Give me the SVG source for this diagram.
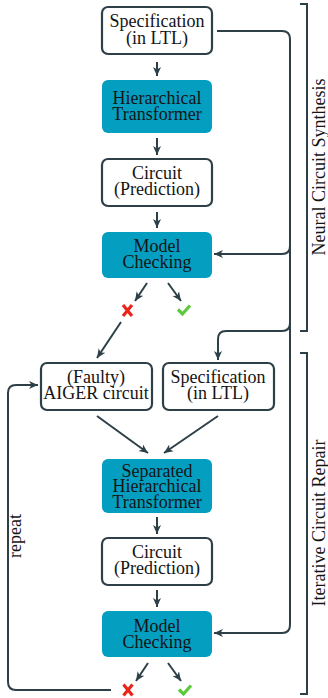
<svg xmlns="http://www.w3.org/2000/svg" width="328" height="698" viewBox="0 0 328 698">
<style>
.box{fill:#fff;stroke:#2d4047;stroke-width:2.2}
.blue{fill:#049ec1;stroke:none}
.t{font-family:"Liberation Serif","Times New Roman",serif;font-size:18px;fill:#141414;text-anchor:middle}
.c{fill:none;stroke:#2d4047;stroke-width:2}
.ca{fill:none;stroke:#2d4047;stroke-width:2;marker-end:url(#ah)}
.br{fill:none;stroke:#2d4047;stroke-width:2}
.x{fill:none;stroke:#e8261c;stroke-width:3.2}
.ok{fill:none;stroke:#5cc93c;stroke-width:3.2}
</style>
<defs>
<marker id="ah" markerUnits="userSpaceOnUse" markerWidth="10" markerHeight="9" refX="9" refY="4.5" orient="auto">
<path d="M0,0.5 L9,4.5 L0,8.5 L2.5,4.5 Z" fill="#2d4047"/>
</marker>
</defs>
<g id="connectors">
<path class="ca" d="M157,62 V76"/>
<path class="ca" d="M157,138 V155"/>
<path class="ca" d="M157,212 V228"/>
<path class="ca" d="M147,283 L135,301"/>
<path class="ca" d="M168,283 L181,301"/>
<path class="ca" d="M121,322 L97,358"/>
<path class="ca" d="M97,416 L148,453"/>
<path class="ca" d="M218,416 L164,453"/>
<path class="ca" d="M157,517 V534"/>
<path class="ca" d="M157,590 V607"/>
<path class="ca" d="M148,663 L136,681"/>
<path class="ca" d="M168,663 L181,681"/>
<path class="ca" d="M217,31 H282 Q290,31 290,39 V625 Q290,633 282,633 H214"/>
<path class="ca" d="M290,246 Q290,254 282,254 H214"/>
<path class="ca" d="M290,323 Q290,331 282,331 H226 Q218,331 218,339 V360"/>
<path class="ca" d="M111,690 H16 Q8,690 8,682 V393 Q8,385 16,385 H38"/>
</g>
<g id="spec1">
<rect class="box" x="102" y="7" width="110" height="47" rx="6"/>
<text class="t" x="157" y="27">Specification</text>
<text class="t" x="157" y="44">(in LTL)</text>
</g>
<g id="ht1">
<rect class="blue" x="102" y="80" width="110" height="53" rx="6"/>
<text class="t" x="157" y="104">Hierarchical</text>
<text class="t" x="157" y="120">Transformer</text>
</g>
<g id="circuit1">
<rect class="box" x="102" y="159" width="110" height="47" rx="6"/>
<text class="t" x="157" y="179">Circuit</text>
<text class="t" x="157" y="195">(Prediction)</text>
</g>
<g id="mc1">
<rect class="blue" x="102" y="232" width="110" height="46" rx="6"/>
<text class="t" x="157" y="252">Model</text>
<text class="t" x="157" y="268">Checking</text>
</g>
<g id="res1">
<path class="x" d="M123,305 L132,316 M132,305 L123,316"/>
<path class="ok" d="M178,309.5 L182.5,314 L190,305.5"/>
</g>
<g id="faulty">
<rect class="box" x="41" y="363" width="111" height="47" rx="6"/>
<text class="t" x="96" y="383">(Faulty)</text>
<text class="t" x="96" y="399">AIGER circuit</text>
</g>
<g id="spec2">
<rect class="box" x="163" y="363" width="111" height="47" rx="6"/>
<text class="t" x="218" y="383">Specification</text>
<text class="t" x="218" y="399">(in LTL)</text>
</g>
<g id="sht">
<rect class="blue" x="102" y="459" width="110" height="54" rx="6"/>
<text class="t" x="157" y="477">Separated</text>
<text class="t" x="157" y="492">Hierarchical</text>
<text class="t" x="157" y="508">Transformer</text>
</g>
<g id="circuit2">
<rect class="box" x="102" y="538" width="110" height="47" rx="6"/>
<text class="t" x="157" y="558">Circuit</text>
<text class="t" x="157" y="574">(Prediction)</text>
</g>
<g id="mc2">
<rect class="blue" x="102" y="611" width="110" height="46" rx="6"/>
<text class="t" x="157" y="632">Model</text>
<text class="t" x="157" y="648">Checking</text>
</g>
<g id="res2">
<path class="x" d="M123.5,684.5 L132.5,695.5 M132.5,684.5 L123.5,695.5"/>
<path class="ok" d="M179,689.5 L183.5,694 L191,685.5"/>
</g>
<g id="brackets">
<path class="br" d="M300,4 H307 V331 H300"/>
<path class="br" d="M300,353 H307 V694 H300"/>
<text class="t" transform="translate(325,167) rotate(-90)">Neural Circuit Synthesis</text>
<text class="t" transform="translate(325,523) rotate(-90)">Iterative Circuit Repair</text>
<text class="t" transform="translate(21,536) rotate(-90)">repeat</text>
</g>
</svg>
